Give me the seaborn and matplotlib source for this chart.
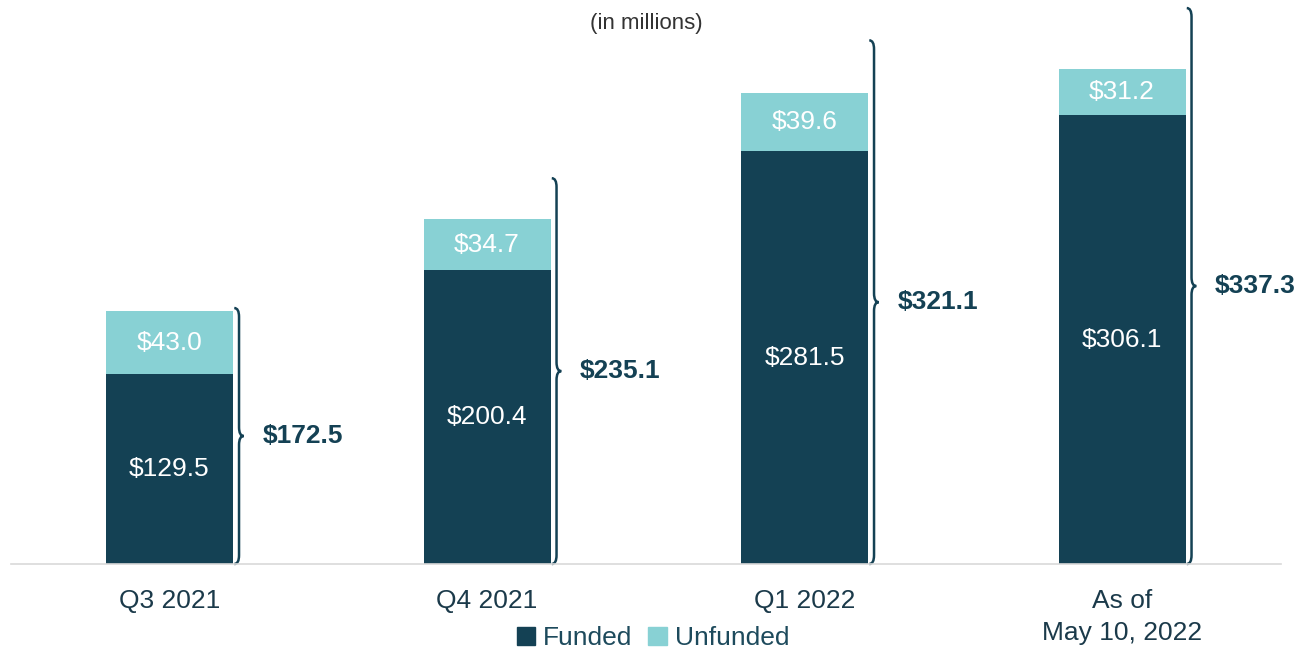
import matplotlib
matplotlib.use("Agg")
import matplotlib.pyplot as plt
from matplotlib.path import Path
from matplotlib.patches import PathPatch, Patch
import pandas as pd
import seaborn as sns

# data (in millions)
categories = ["Q3 2021", "Q4 2021", "Q1 2022", "As of\nMay 10, 2022"]
funded = [129.5, 200.4, 281.5, 306.1]
unfunded = [43.0, 34.7, 39.6, 31.2]
totals = [172.5, 235.1, 321.1, 337.3]

dark = "#144154"
light = "#88d1d4"

sns.set_theme(style="white")
plt.rcParams["font.family"] = ["Liberation Sans", "DejaVu Sans"]

df = pd.DataFrame({"cat": categories, "funded": funded,
                   "unfunded": unfunded, "total": totals})

fig = plt.figure(figsize=(12.96, 6.53), dpi=100)
ax = fig.add_axes([10.75 / 1296, 89 / 653, 1270 / 1296, 564 / 653])

# stacked bars: total (light) behind, funded (dark) in front
sns.barplot(data=df, x="cat", y="total", color=light, width=0.4,
            saturation=1, linewidth=0, ax=ax)
sns.barplot(data=df, x="cat", y="funded", color=dark, width=0.4,
            saturation=1, linewidth=0, ax=ax)

ax.set_xlim(-0.5, 3.5)
ax.set_ylim(0, 384.5)
ax.set_xlabel("")
ax.set_ylabel("")
ax.set_yticks([])
for s in ["top", "right", "left"]:
    ax.spines[s].set_visible(False)
ax.spines["bottom"].set_color("#d9d9d9")
ax.spines["bottom"].set_linewidth(1.2)
ax.tick_params(axis="x", length=0, pad=18, labelsize=19, labelcolor="#1b3a4a")
for lbl in ax.get_xticklabels():
    lbl.set_linespacing(1.4)

# segment labels
for i, (f, u) in enumerate(zip(funded, unfunded)):
    ax.text(i, f / 2, f"${f:.1f}", ha="center", va="center",
            color="white", fontsize=19)
    ax.text(i, f + u / 2, f"${u:.1f}", ha="center", va="center",
            color="white", fontsize=19)

# curly brackets with totals
bracket_tops = [174.5, 263, 357, 379]
w = 0.03
r = 6.0
for i, (t, top) in enumerate(zip(totals, bracket_tops)):
    x0 = i + 0.2 + 0.004
    xm = x0 + w / 2
    mid = top / 2
    verts = [(x0, top), (xm, top), (xm, top - r),
             (xm, mid + r), (xm, mid), (x0 + w, mid),
             (xm, mid), (xm, mid - r),
             (xm, r), (xm, 0), (x0, 0)]
    codes = [Path.MOVETO, Path.CURVE3, Path.CURVE3,
             Path.LINETO, Path.CURVE3, Path.CURVE3,
             Path.CURVE3, Path.CURVE3,
             Path.LINETO, Path.CURVE3, Path.CURVE3]
    ax.add_patch(PathPatch(Path(verts, codes), fill=False, edgecolor=dark,
                           lw=1.8, clip_on=False))
    ax.text(i + 0.2 + 0.092, mid, f"${t:.1f}", ha="left", va="center",
            color=dark, fontsize=19, fontweight="bold", clip_on=False)

fig.text(646 / 1296, 1 - 24 / 653, "(in millions)", ha="center", va="center",
         fontsize=16, color="#333333")

handles = [Patch(color=dark, label="Funded"), Patch(color=light, label="Unfunded")]
fig.legend(handles=handles, loc="center", bbox_to_anchor=(653 / 1296, 1 - 638 / 653),
           ncol=2, frameon=False, fontsize=19, handlelength=0.7, handleheight=0.7,
           handletextpad=0.3, columnspacing=0.6, labelcolor="#1d4a5c",
           borderpad=0)

fig.savefig("out.png", dpi=100)
